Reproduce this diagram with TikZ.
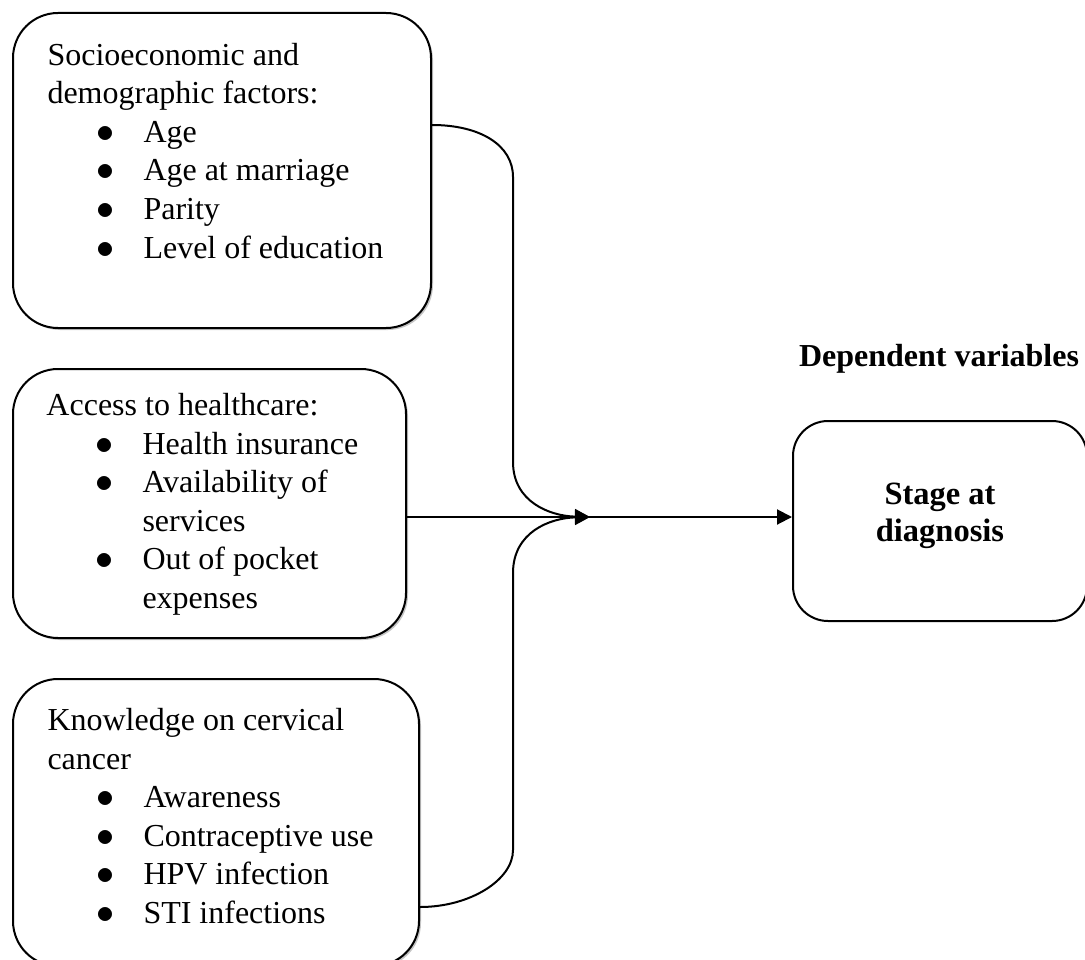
\documentclass[tikz,border=0pt]{standalone}
\usepackage{fontspec}
\setmainfont{Liberation Serif}
\usetikzlibrary{arrows.meta,shadows}

% bulleted line and continued line inside a factor box
\newcommand{\blt}[1]{\makebox[38.4pt][l]{\hspace*{19.4pt}\scalebox{1.2}{$\bullet$}}#1}
\newcommand{\cnt}[1]{\hspace*{38.4pt}#1}

\tikzset{
  factor/.style={draw, fill=white, line width=0.8pt, rounded corners=18pt,
    anchor=north west, inner sep=0pt,
    drop shadow={shadow xshift=0.8pt, shadow yshift=-0.8pt, fill=black!45}},
  outcome/.style={draw, line width=0.8pt, rounded corners=14pt,
    anchor=north west, inner sep=0pt},
  body/.style={anchor=base west, align=left, inner sep=0pt,
    font=\fontsize{12.8}{15.4}\selectfont},
  link/.style={line width=0.8pt, -{Triangle[length=6pt,width=6pt]}}
}

\begin{document}
\begin{tikzpicture}[x=0.4pt, y=-0.4pt]
  \useasboundingbox (0,0) rectangle (1085,959);

  % independent variables
  \node[factor, minimum width=167.2pt, minimum height=126pt] (socio) at (12,12) {};
  \node[factor, minimum width=157.2pt, minimum height=107.6pt] (access) at (12,368) {};
  \node[factor, minimum width=162.4pt, minimum height=114.8pt] (know) at (12,678) {};

  % text blocks, placed by the baseline of their last line
  \node[body] (sociotxt) at (47,258) {Socioeconomic and\\ demographic factors:\\
    \blt{Age}\\ \blt{Age at marriage}\\ \blt{Parity}\\ \blt{Level of education}};
  \node[body] (accesstxt) at (46,608) {Access to healthcare:\\
    \blt{Health insurance}\\ \blt{Availability of}\\ \cnt{services}\\
    \blt{Out of pocket}\\ \cnt{expenses}};
  \node[body] (knowtxt) at (47,923) {Knowledge on cervical\\ cancer\\
    \blt{Awareness}\\ \blt{Contraceptive use}\\ \blt{HPV infection}\\ \blt{STI infections}};

  % dependent variable
  \node[font=\fontsize{12.8}{15.4}\selectfont\bfseries, anchor=base] (deptitle) at (939,366) {Dependent variables};
  \node[outcome, minimum width=117.6pt, minimum height=80pt] (stage) at (792,420) {};
  \node[font=\fontsize{13}{14.8}\selectfont\bfseries, align=center] (stagetxt)
    at ([yshift=2pt]stage.center) {Stage at\\ diagnosis};

  \coordinate (join) at (590,517);

  % connectors
  \draw[link] (socio.east |- 0,125) .. controls (480,125) and (513,145) .. (513,177)
    -- (513,462) .. controls (513,502) and (550,516) .. (join);
  \draw[link] (know.east |- 0,907) .. controls (470,907) and (513,880) .. (513,850)
    -- (513,573) .. controls (513,532) and (550,518) .. (join);
  \draw[link] (access.east |- 0,517) -- (stage.west |- 0,517);
\end{tikzpicture}
\end{document}
